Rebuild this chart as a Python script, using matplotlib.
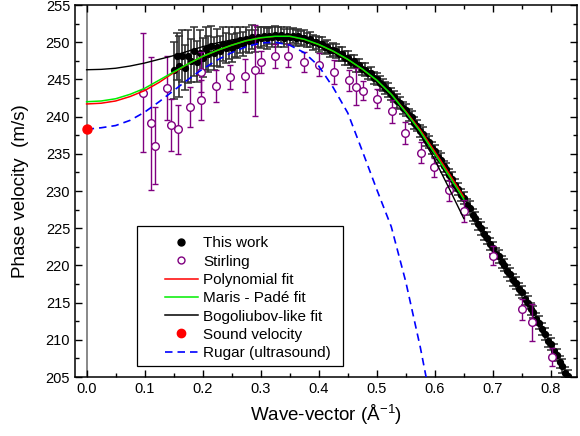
import matplotlib
matplotlib.use("Agg")
import matplotlib.pyplot as plt
from matplotlib.lines import Line2D
from matplotlib.patches import Rectangle
from matplotlib.ticker import MultipleLocator, FormatStrFormatter

plt.rcParams["font.family"] = ["Liberation Sans", "DejaVu Sans"]
plt.rcParams["mathtext.default"] = "regular"

# --- This work (dense neutron data) ---
q_this = [
    0.150, 0.155, 0.160, 0.165, 0.170, 0.175, 0.180, 0.185, 0.190, 0.195,
    0.200, 0.205, 0.210, 0.215, 0.220, 0.225, 0.230, 0.235, 0.240, 0.245,
    0.250, 0.255, 0.260, 0.265, 0.270, 0.275, 0.280, 0.285, 0.290, 0.295,
    0.300, 0.305, 0.310, 0.315, 0.320, 0.325, 0.330, 0.335, 0.340, 0.345,
    0.350, 0.355, 0.360, 0.365, 0.370, 0.375, 0.380, 0.385, 0.390, 0.395,
    0.400, 0.405, 0.410, 0.415, 0.420, 0.425, 0.430, 0.435, 0.440, 0.445,
    0.450, 0.455, 0.460, 0.465, 0.470, 0.475, 0.480, 0.485, 0.490, 0.495,
    0.500, 0.505, 0.510, 0.515, 0.520, 0.525, 0.530, 0.535, 0.540, 0.545,
    0.550, 0.555, 0.560, 0.565, 0.570, 0.575, 0.580, 0.585, 0.590, 0.595,
    0.600, 0.605, 0.610, 0.615, 0.620, 0.625, 0.630, 0.635, 0.640, 0.645,
    0.650, 0.655, 0.660, 0.665, 0.670, 0.675, 0.680, 0.685, 0.690, 0.695,
    0.700, 0.705, 0.710, 0.715, 0.720, 0.725, 0.730, 0.735, 0.740, 0.745,
    0.750, 0.755, 0.760, 0.765, 0.770, 0.775, 0.780, 0.785, 0.790, 0.795,
    0.800, 0.805, 0.810, 0.815, 0.820, 0.825, 0.830,
]
v_this = [
    246.2, 248.1, 246.8, 248.1, 246.6, 248.1, 247.5, 248.8, 247.4, 248.6,
    247.9, 249.1, 248.4, 249.5, 248.5, 249.3, 248.8, 249.8, 249.2, 249.9,
    249.2, 250.0, 249.6, 250.3, 249.8, 250.4, 250.1, 250.7, 250.2, 250.7,
    250.6, 250.8, 250.5, 250.9, 250.7, 251.0, 250.7, 251.0, 250.6, 250.9,
    250.7, 250.9, 250.6, 250.8, 250.5, 250.6, 250.3, 250.4, 250.0, 250.0,
    249.7, 249.8, 249.3, 249.4, 248.9, 249.0, 248.8, 248.4, 248.4, 247.9,
    247.9, 247.4, 247.5, 246.9, 246.9, 246.4, 246.3, 245.8, 245.8, 245.2,
    245.1, 244.5, 244.3, 243.8, 243.6, 243.0, 242.7, 242.1, 241.8, 241.2,
    240.9, 240.2, 239.9, 239.1, 238.8, 238.1, 237.7, 236.9, 236.6, 235.8,
    235.4, 234.6, 234.2, 233.3, 232.9, 232.1, 231.6, 230.8, 230.3, 229.5,
    229.0, 228.1, 227.7, 226.8, 226.4, 225.5, 225.0, 224.2, 223.7, 222.9,
    222.4, 221.6, 221.2, 220.4, 220.0, 219.2, 218.8, 218.0, 217.6, 216.8,
    216.4, 215.5, 215.0, 214.2, 213.7, 212.8, 212.3, 211.4, 210.8, 209.9,
    209.4, 208.5, 208.0, 207.0, 206.5, 205.6, 205.1,
]
err_this = [
    3.8, 3.2, 4.1, 3.5, 3.0, 3.6, 2.9, 3.3, 2.7, 3.0,
    2.6, 2.9, 2.4, 2.7, 2.2, 2.5, 2.1, 2.3, 2.0, 2.2,
    1.9, 2.0, 1.7, 1.8, 1.6, 1.7, 1.5, 1.6, 1.5, 1.4,
    1.4, 1.3, 1.4, 1.2, 1.3, 1.2, 1.3, 1.1, 1.2, 1.1,
    1.1, 1.0, 1.1, 1.0, 1.0, 1.0, 1.0, 1.0, 1.0, 0.9,
    1.0, 0.9, 0.9, 0.9, 0.9, 0.9, 0.9, 0.9, 0.9, 0.9,
    0.9, 0.9, 0.8, 0.9, 0.9, 0.8, 0.9, 0.8, 0.9, 0.8,
    0.8, 0.9, 0.8, 0.8, 0.9, 0.8, 0.8, 0.9, 0.8, 0.8,
    0.8, 0.8, 0.9, 0.8, 0.8, 0.8, 0.9, 0.8, 0.8, 0.8,
    0.8, 0.8, 0.9, 0.8, 0.8, 0.8, 0.9, 0.8, 0.8, 0.8,
    0.8, 0.8, 0.9, 0.8, 0.8, 0.8, 0.9, 0.8, 0.8, 0.8,
    0.8, 0.8, 0.9, 0.8, 0.8, 0.8, 0.9, 0.8, 0.8, 0.8,
    0.8, 0.8, 0.9, 0.8, 0.8, 0.8, 0.9, 0.8, 0.8, 0.8,
    0.8, 0.9, 0.8, 0.8, 0.9, 0.8, 0.8,
]

# --- Stirling ---
q_stirling = [0.097, 0.1115, 0.1184, 0.1385, 0.146, 0.1575, 0.1776, 0.1977,
              0.1977, 0.2224, 0.2477, 0.2724, 0.2897, 0.300, 0.324, 0.347,
              0.3753, 0.400, 0.4264, 0.4517, 0.465, 0.4764, 0.5006, 0.5264,
              0.5494, 0.577, 0.5988, 0.6241, 0.650, 0.6995, 0.7494, 0.7678,
              0.8022]
v_stirling = [243.2, 239.1, 236.1, 243.8, 238.9, 238.3, 241.3, 242.2,
              246.0, 244.1, 245.3, 245.5, 246.2, 247.3, 248.2, 248.2,
              247.35, 247.0, 245.95, 244.9, 244.0, 243.5, 242.4, 240.7,
              237.8, 235.15, 233.2, 230.1, 227.35, 221.3, 214.1, 212.35,
              207.65]
err_stirling = [8.0, 8.9, 5.2, 4.3, 3.5, 3.3, 2.7, 2.7,
                2.7, 2.2, 1.6, 2.2, 6.1, 1.5, 1.6, 1.5,
                1.4, 1.5, 1.6, 1.4, 2.5, 1.3, 1.3, 1.5,
                1.5, 1.45, 1.3, 1.4, 1.5, 1.3, 1.4, 2.5,
                1.2]

# --- fits ---
q_fit = [0.0, 0.025, 0.05, 0.075, 0.1, 0.125, 0.15, 0.175, 0.2, 0.225,
         0.25, 0.275, 0.3, 0.325, 0.35, 0.375, 0.4, 0.425, 0.45, 0.475,
         0.5, 0.525, 0.55, 0.575, 0.6, 0.625, 0.65]
v_poly = [241.7, 241.8, 242.1, 242.7, 243.5, 244.6, 245.9, 247.1, 248.1, 248.9,
          249.6, 250.2, 250.6, 250.8, 250.8, 250.4, 249.7, 248.8, 247.7, 246.4,
          244.9, 243.0, 240.7, 238.2, 235.3, 232.3, 229.2]
v_maris = [242.0, 242.1, 242.4, 243.0, 243.8, 244.9, 246.0, 247.1, 248.1, 248.9,
           249.6, 250.2, 250.6, 250.8, 250.8, 250.4, 249.7, 248.8, 247.7, 246.4,
           244.9, 243.0, 240.6, 238.0, 235.0, 232.0, 228.9]
v_bogo = [246.3, 246.35, 246.5, 246.8, 247.2, 247.7, 248.2, 248.8, 249.4, 249.9,
          250.3, 250.6, 250.8, 250.9, 250.8, 250.5, 249.9, 249.0, 247.9, 246.6,
          245.0, 243.0, 240.5, 237.6, 234.2, 230.3, 226.3]

# --- Rugar (ultrasound) ---
q_rugar = [0.0, 0.025, 0.05, 0.075, 0.1, 0.125, 0.15, 0.175, 0.2, 0.225,
           0.25, 0.275, 0.3, 0.325, 0.35, 0.375, 0.4, 0.425, 0.45, 0.475,
           0.5, 0.525, 0.55, 0.575, 0.59]
v_rugar = [238.3, 238.5, 238.8, 239.5, 240.6, 242.0, 243.5, 245.0, 246.4, 247.6,
           248.6, 249.4, 249.9, 250.0, 249.6, 248.6, 246.8, 243.9, 240.5, 235.4,
           230.2, 225.2, 217.8, 209.0, 203.0]

q_sound = [0.0]
v_sound = [238.3]

fig = plt.figure(figsize=(5.8, 4.36), dpi=100)
ax = fig.add_axes([0.1293, 0.1353, 0.8655, 0.8532])

ax.axvline(0, color="#7f7f7f", lw=1.3, zorder=1)

ax.errorbar(q_this, v_this, yerr=err_this, fmt="none", ecolor="#303030",
            elinewidth=1.2, capsize=2.8, capthick=1.1, zorder=2)
ax.plot(q_this, v_this, "o", color="black", ms=4.2, zorder=3)

ax.errorbar(q_stirling, v_stirling, yerr=err_stirling, fmt="none",
            ecolor="#800080", elinewidth=1.0, capsize=2, capthick=1.0, zorder=4)
ax.plot(q_stirling, v_stirling, "o", mfc="white", mec="#800080", mew=1.0,
        ms=5.5, zorder=5)

ax.plot(q_fit, v_poly, color="red", lw=1.1, zorder=6)
ax.plot(q_fit, v_maris, color="#00ee00", lw=1.1, zorder=7)
ax.plot(q_fit, v_bogo, color="black", lw=1.0, zorder=6)
ax.plot(q_rugar, v_rugar, color="blue", lw=1.2, dashes=(4.5, 3), zorder=6)
ax.plot(q_sound, v_sound, "o", color="red", ms=6.5, zorder=8, clip_on=False)

ax.set_xlim(-0.02, 0.845)
ax.set_ylim(205, 255)
ax.xaxis.set_major_locator(MultipleLocator(0.1))
ax.xaxis.set_minor_locator(MultipleLocator(0.05))
ax.xaxis.set_major_formatter(FormatStrFormatter("%.1f"))
ax.yaxis.set_major_locator(MultipleLocator(5))
ax.yaxis.set_minor_locator(MultipleLocator(2.5))
ax.tick_params(which="both", direction="in", top=True, right=True,
               labelsize=10.5, width=1.0)
ax.tick_params(which="major", length=5)
ax.tick_params(which="minor", length=3)
for sp in ax.spines.values():
    sp.set_linewidth(1.1)

ax.set_xlabel("Wave-vector (Å$^{-1}$)", fontsize=13.5, labelpad=5)
ax.set_ylabel("Phase velocity  (m/s)", fontsize=13.5, labelpad=12)

# legend frame drawn separately (wide left margin as in the original)
ax.add_patch(Rectangle((0.1235, 0.0296), 0.4105, 0.3764, transform=ax.transAxes,
                       facecolor="white", edgecolor="black", lw=0.9, zorder=9))

handles = [
    Line2D([], [], ls="none", marker="o", color="black", ms=5),
    Line2D([], [], ls="none", marker="o", mfc="white", mec="#800080", ms=5),
    Line2D([], [], color="red", lw=1.1),
    Line2D([], [], color="#00ee00", lw=1.1),
    Line2D([], [], color="black", lw=1.1),
    Line2D([], [], ls="none", marker="o", color="red", ms=6),
    Line2D([], [], color="blue", lw=1.2, dashes=(4.5, 3)),
]
labels = ["This work", "Stirling", "Polynomial fit", "Maris - Padé fit",
          "Bogoliubov-like fit", "Sound velocity", "Rugar (ultrasound)"]
leg = ax.legend(handles, labels, loc="upper left",
                bbox_to_anchor=(0.179, 0.378), fontsize=11, frameon=False,
                borderpad=0, borderaxespad=0,
                handlelength=2.16, handletextpad=0.33, labelspacing=0.28)
leg.set_zorder(10)

fig.savefig("out.png", dpi=100)
